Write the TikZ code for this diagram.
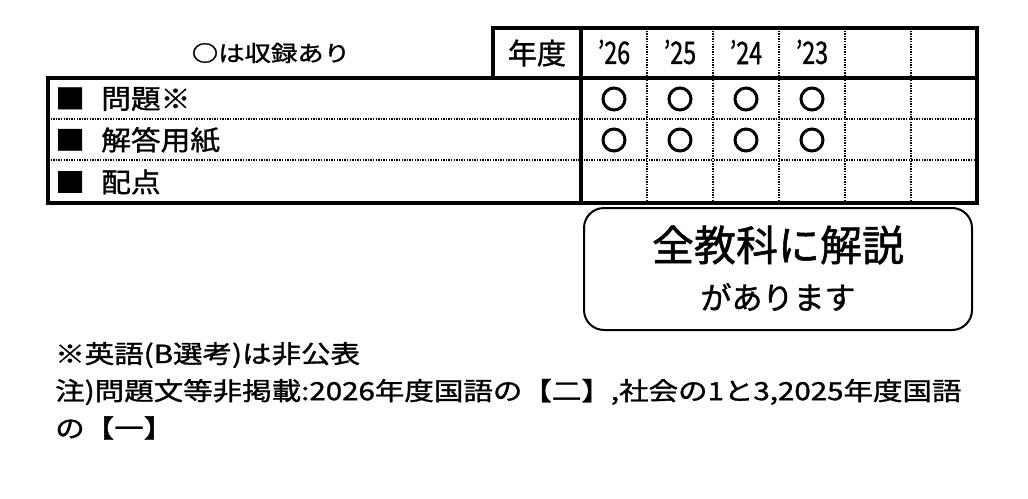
\documentclass[tikz,border=0pt]{standalone}
\usepackage{fontspec}
\setmainfont[FakeBold=1.2]{Noto Sans CJK JP}
\begin{document}
\begin{tikzpicture}[x=1pt,y=-1pt,
  thick line/.style={line width=3.6pt},
  dotline/.style={line width=2.4pt,dash pattern=on 1.3pt off 1.3pt},
  rec/.style={circle,draw,line width=3pt,minimum size=22pt,inner sep=0pt},
  lbl/.style={anchor=west,font=\fontsize{27}{29}\selectfont,inner sep=0pt,xscale=1.1},
  yr/.style={font=\fontsize{31}{33}\selectfont,inner sep=0pt,xscale=0.75},
  note/.style={anchor=west,font=\fontsize{25}{28}\selectfont,inner sep=0pt,xscale=1.18}]
\useasboundingbox (0,0) rectangle (1028,498);
% dotted lines
\foreach \y in {119,160} \draw[dotline] (48,\y) -- (977,\y);
\foreach \x in {647,713,779,845,911} \draw[dotline] (\x,28) -- (\x,203);
% thick lines
\draw[thick line] (493,28) rectangle (977,78);
\draw[thick line] (48,78) rectangle (977,203);
\draw[thick line] (581,28) -- (581,203);
\node (hdr) at (537,53) {\fontsize{29}{31}\selectfont 年度};
\node[xscale=1.2] (leg) at (271,53) {\fontsize{22}{24}\selectfont {\bfseries ○}は収録あり};
\foreach \t [count=\i] in {26,25,24,23}
  \node[yr] (y\i) at ({581+66*(\i-0.5)},52) {’\t};
\node[lbl] (r1) at (55,99) {■\hspace{0.55em}問題※};
\node[lbl] (r2) at (55,140) {■\hspace{0.55em}解答用紙};
\node[lbl] (r3) at (55,182) {■\hspace{0.55em}配点};
\foreach \i in {1,...,4} {
  \node[rec] (a\i) at ({581+66*(\i-0.5)},99) {};
  \node[rec] (b\i) at ({581+66*(\i-0.5)},140) {};
}
\draw[line width=2pt,rounded corners=20pt] (584,208) rectangle (972,330);
\node (k1) at (778,245) {\fontsize{42}{44}\selectfont 全教科に解説};
\node (k2) at (778,297) {\fontsize{31}{33}\selectfont があります};
\node[note] (n1) at (55,355) {※英語(B選考)は非公表};
\node[note] (n2) at (55,392) {注)問題文等非掲載:2026年度国語の【二】,社会の1と3,2025年度国語};
\node[note] (n3) at (55,428) {の【一】};
\end{tikzpicture}
\end{document}
